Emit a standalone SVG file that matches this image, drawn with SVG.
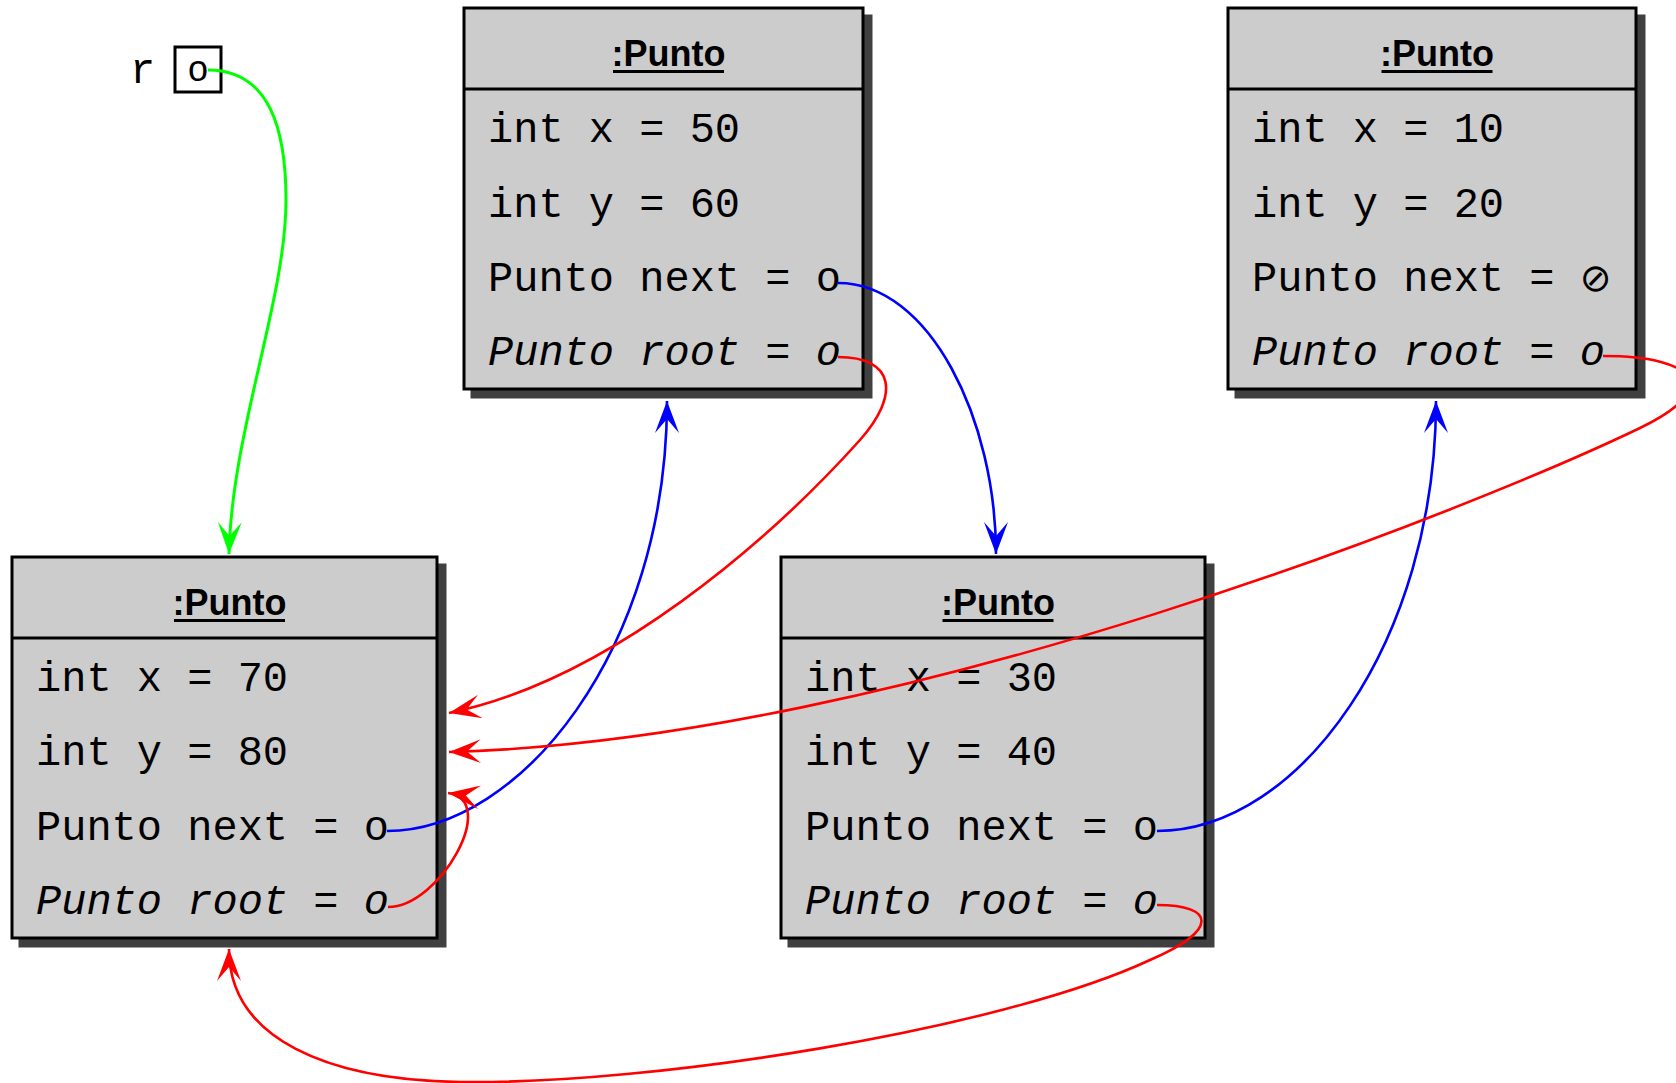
<svg xmlns="http://www.w3.org/2000/svg" width="1676" height="1083" viewBox="0 0 1676 1083">
<style>
.shadow{fill:#404040;stroke:#404040;stroke-width:3}
.box{fill:#cccccc;stroke:#000;stroke-width:3}
.div{stroke:#000;stroke-width:3}
.title{font-family:"Liberation Sans",Arial,sans-serif;font-weight:bold;font-size:36px;text-anchor:middle;fill:#000}
.ul{stroke:#000;stroke-width:3}
.f{font-family:"Liberation Mono","DejaVu Sans Mono",monospace;font-size:42px;fill:#000}
.fi{font-family:"Liberation Mono","DejaVu Sans Mono",monospace;font-size:42px;font-style:italic;fill:#000}
.null{font-family:"DejaVu Sans",sans-serif;font-size:38px;font-weight:normal}
.c{fill:none;stroke-width:2.6}
.red{stroke:#ff0000}
.blue{stroke:#0000ff}
.green{stroke:#00ff00;stroke-width:3}
</style>
<defs>
<marker id="ar" markerUnits="userSpaceOnUse" viewBox="0 0 32 24" markerWidth="32" markerHeight="24" refX="32" refY="12" orient="auto"><path d="M32,12 L0,0 L14,12 L0,24 Z" fill="#ff0000"/></marker>
<marker id="ab" markerUnits="userSpaceOnUse" viewBox="0 0 32 24" markerWidth="32" markerHeight="24" refX="32" refY="12" orient="auto"><path d="M32,12 L0,0 L14,12 L0,24 Z" fill="#0000ff"/></marker>
<marker id="ag" markerUnits="userSpaceOnUse" viewBox="0 0 32 24" markerWidth="32" markerHeight="24" refX="32" refY="12" orient="auto"><path d="M32,12 L0,0 L14,12 L0,24 Z" fill="#00ff00"/></marker>
</defs>

<g id="var-r">
<text x="130" y="83" class="f">r</text>
<rect x="175" y="47" width="46" height="45" fill="#fff" stroke="#000" stroke-width="3"/>
<text x="198" y="81" font-family="'Liberation Sans',Arial,sans-serif" font-size="36" text-anchor="middle">o</text>
</g>

<g id="punto-50-60">
<rect class="shadow" x="472" y="16" width="399" height="381"/>
<rect class="box" x="464" y="8" width="399" height="381"/>
<line class="div" x1="464" y1="89" x2="863" y2="89"/>
<text class="title" x="668.5" y="66">:Punto</text>
<line class="ul" x1="613" y1="71.5" x2="724" y2="71.5"/>
<text class="f" x="488" y="142">int x = 50</text>
<text class="f" x="488" y="217">int y = 60</text>
<text class="f" x="488" y="291">Punto next = o</text>
<text class="fi" x="488" y="365">Punto root = o</text>
</g>

<g id="punto-10-20">
<rect class="shadow" x="1236" y="16" width="408" height="381"/>
<rect class="box" x="1228" y="8" width="408" height="381"/>
<line class="div" x1="1228" y1="89" x2="1636" y2="89"/>
<text class="title" x="1437" y="66">:Punto</text>
<line class="ul" x1="1381.5" y1="71.5" x2="1492.5" y2="71.5"/>
<text class="f" x="1252" y="142">int x = 10</text>
<text class="f" x="1252" y="217">int y = 20</text>
<text class="f" x="1252" y="291">Punto next = <tspan class="null">⊘</tspan></text>
<text class="fi" x="1252" y="365">Punto root = o</text>
</g>

<g id="punto-70-80">
<rect class="shadow" x="20" y="565" width="425" height="381"/>
<rect class="box" x="12" y="557" width="425" height="381"/>
<line class="div" x1="12" y1="638" x2="437" y2="638"/>
<text class="title" x="229.5" y="615">:Punto</text>
<line class="ul" x1="174" y1="620.5" x2="285" y2="620.5"/>
<text class="f" x="36" y="691">int x = 70</text>
<text class="f" x="36" y="765">int y = 80</text>
<text class="f" x="36" y="840">Punto next = o</text>
<text class="fi" x="36" y="914">Punto root = o</text>
</g>

<g id="punto-30-40">
<rect class="shadow" x="789" y="565" width="424" height="381"/>
<rect class="box" x="781" y="557" width="424" height="381"/>
<line class="div" x1="781" y1="638" x2="1205" y2="638"/>
<text class="title" x="998" y="615">:Punto</text>
<line class="ul" x1="942.5" y1="620.5" x2="1053.5" y2="620.5"/>
<text class="f" x="805" y="691">int x = 30</text>
<text class="f" x="805" y="765">int y = 40</text>
<text class="f" x="805" y="840">Punto next = o</text>
<text class="fi" x="805" y="914">Punto root = o</text>
</g>

<g id="connectors">
<path class="c green" d="M208,70 C270,70 286,130 286,200 C286,300 232,430 229,554" marker-end="url(#ag)"/>
<path class="c blue" d="M838,283 C930,283 996,420 996,554" marker-end="url(#ab)"/>
<path class="c blue" d="M387,831 C520,831 667,650 667,401" marker-end="url(#ab)"/>
<path class="c blue" d="M1157,831 C1300,831 1436,640 1436,401" marker-end="url(#ab)"/>
<path class="c red" d="M838,357 C895,357 900,395 860,440 C770,540 610,680 449,713" marker-end="url(#ar)"/>
<path class="c red" d="M1603,356 C1700,356 1720,390 1640,428 C1480,505 900,740 449,752" marker-end="url(#ar)"/>
<path class="c red" d="M388,907 C440,907 500,800 448,793" marker-end="url(#ar)"/>
<path class="c red" d="M1157,905 C1215,905 1220,930 1150,960 C1000,1030 650,1085 460,1082 C330,1080 229,1040 229,949" marker-end="url(#ar)"/>
</g>
</svg>
